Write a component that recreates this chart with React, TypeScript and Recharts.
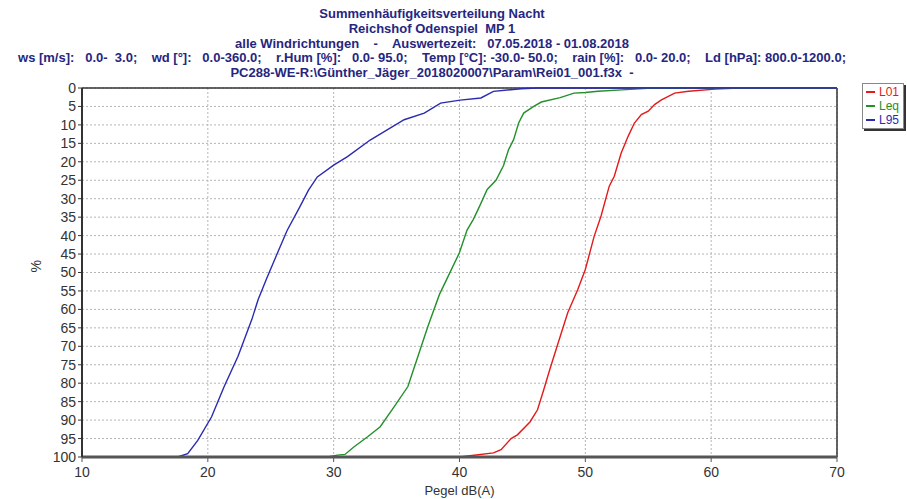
import React from 'react'
import {
  LineChart,
  Line,
  XAxis,
  YAxis,
  CartesianGrid,
  ReferenceLine
} from 'recharts'

// levels in dB(A) and the share of time (%) that level is exceeded
const l01Level = [40, 41, 42.7, 43.3, 44.1, 44.6, 45.6, 46.2, 46.7, 47.2, 47.8, 48.6, 49.4, 50, 50.7, 51.25, 51.9, 52.3, 52.85, 53.4, 53.9, 54.45, 55, 55.5, 56.05, 57.1, 58.2, 60.3, 62.2, 70]
const l01Pct = [100, 99.6, 98.9, 98, 95, 94, 90.5, 87.2, 81.7, 76, 69.5, 60.9, 54.6, 49.2, 40.2, 34.7, 26.6, 23.9, 17.6, 13.1, 9.5, 7.2, 6.3, 4.5, 3.2, 1.4, 0.9, 0.3, 0, 0]

const leqLevel = [29.5, 30.3, 30.9, 31.6, 32.7, 33.7, 34.8, 35.9, 36.7, 37.5, 38.4, 39.2, 40, 40.6, 41.1, 41.6, 42.2, 42.9, 43.5, 43.9, 44.3, 44.7, 45.1, 45.9, 46.5, 48, 49.1, 50, 51, 52.9, 55.3, 70]
const leqPct = [100, 99.5, 99.3, 97.3, 94.5, 91.8, 86.4, 80.9, 72.7, 64.5, 56, 50.3, 44.6, 38.5, 35.6, 32, 27.5, 25, 21, 16.7, 14, 9.5, 6.8, 5, 3.8, 2.6, 1.4, 1.2, 0.9, 0.5, 0, 0]

const l95Level = [17.6, 18.4, 19.2, 20.3, 21.3, 22.4, 23.5, 24, 24.7, 25.5, 26.3, 27.3, 28, 28.7, 30, 31.1, 32.9, 35.6, 37.2, 38.5, 40.05, 41.7, 42.7, 44.9, 46.2, 70]
const l95Pct = [100, 99.1, 95.5, 89.1, 80.9, 72.7, 62.7, 57.3, 51.4, 45, 38.6, 32.3, 27.7, 24.1, 20.9, 18.6, 14.1, 8.6, 6.8, 4.1, 3.3, 2.7, 0.9, 0.2, 0, 0]

const xTicks = [10, 20, 30, 40, 50, 60, 70]
const yTicks = [0, 5, 10, 15, 20, 25, 30, 35, 40, 45, 50, 55, 60, 65, 70, 75, 80, 85, 90, 95, 100]

const titleLines = [
  'Summenhäufigkeitsverteilung Nacht',
  'Reichshof Odenspiel  MP 1',
  'alle Windrichtungen    -    Auswertezeit:   07.05.2018 - 01.08.2018',
  'ws [m/s]:   0.0-  3.0;    wd [°]:   0.0-360.0;    r.Hum [%]:   0.0- 95.0;    Temp [°C]: -30.0- 50.0;    rain [%]:   0.0- 20.0;    Ld [hPa]: 800.0-1200.0;',
  'PC288-WE-R:\\Günther_Jäger_2018020007\\Param\\Rei01_001.f3x  -'
]

const series = [
  { name: 'L01', color: '#e21a1a', level: l01Level, pct: l01Pct },
  { name: 'Leq', color: '#23902a', level: leqLevel, pct: leqPct },
  { name: 'L95', color: '#2b2bb0', level: l95Level, pct: l95Pct }
]

const toPoints = (level: number[], pct: number[]) =>
  level.map((x, i) => ({ x, y: pct[i] }))

const font = '"Liberation Sans", Arial, sans-serif'

export default function App() {
  return (
    <div style={{ position: 'absolute', left: 0, top: 0, width: 907, height: 499, background: '#fff' }}>
      <div
        style={{
          position: 'absolute',
          left: 0,
          top: 7,
          width: 864,
          textAlign: 'center',
          fontFamily: font,
          fontWeight: 'bold',
          fontSize: 13,
          lineHeight: '14.8px',
          color: '#262680',
          whiteSpace: 'pre'
        }}
      >
        {titleLines.map((t) => (
          <div key={t}>{t}</div>
        ))}
      </div>
      <LineChart
        width={907}
        height={499}
        margin={{ top: 88, right: 70, bottom: 0, left: 0 }}
        style={{ position: 'absolute', left: 0, top: 0 }}
      >
        <CartesianGrid
          strokeDasharray="2 2"
          stroke="#b5b5b5"
          horizontalValues={yTicks}
          verticalValues={xTicks}
        />
        <XAxis
          type="number"
          dataKey="x"
          domain={[10, 70]}
          ticks={xTicks}
          allowDuplicatedCategory={false}
          height={42}
          tickSize={5}
          tickMargin={5}
          stroke="#555"
          axisLine={{ stroke: '#555', strokeWidth: 3 }}
          tick={{ fill: '#333', fontSize: 14, fontFamily: font }}
          label={{ value: 'Pegel dB(A)', position: 'insideBottom', offset: 4, fill: '#333', fontSize: 13, fontFamily: font }}
        />
        <YAxis
          type="number"
          dataKey="y"
          domain={[0, 100]}
          ticks={yTicks}
          reversed
          interval={0}
          width={82}
          tickSize={4}
          stroke="#333"
          axisLine={{ stroke: '#333', strokeWidth: 2 }}
          tick={{ fill: '#333', fontSize: 14, fontFamily: font }}
          label={{ value: '%', angle: -90, position: 'insideLeft', offset: 36, fill: '#333', fontSize: 14, fontFamily: font }}
        />
        <ReferenceLine x={70} stroke="#333" strokeWidth={1.5} />
        <ReferenceLine y={0} stroke="#333" strokeWidth={1.5} />
        {series.map((s) => (
          <Line
            key={s.name}
            name={s.name}
            data={toPoints(s.level, s.pct)}
            dataKey="y"
            type="linear"
            stroke={s.color}
            strokeWidth={1.4}
            dot={false}
            activeDot={false}
            isAnimationActive={false}
          />
        ))}
      </LineChart>
      <div
        style={{
          position: 'absolute',
          left: 862,
          top: 83,
          border: '1px solid #888',
          boxShadow: '2px 2px 0 #333',
          background: '#fff',
          padding: '1px 4px 1px 3px',
          fontFamily: font,
          fontSize: 12,
          lineHeight: '14px'
        }}
      >
        {series.map((s) => (
          <div key={s.name} style={{ display: 'flex', alignItems: 'center', color: s.color }}>
            <span style={{ display: 'inline-block', width: 9, height: 2, background: s.color, marginRight: 4 }} />
            {s.name}
          </div>
        ))}
      </div>
    </div>
  )
}
